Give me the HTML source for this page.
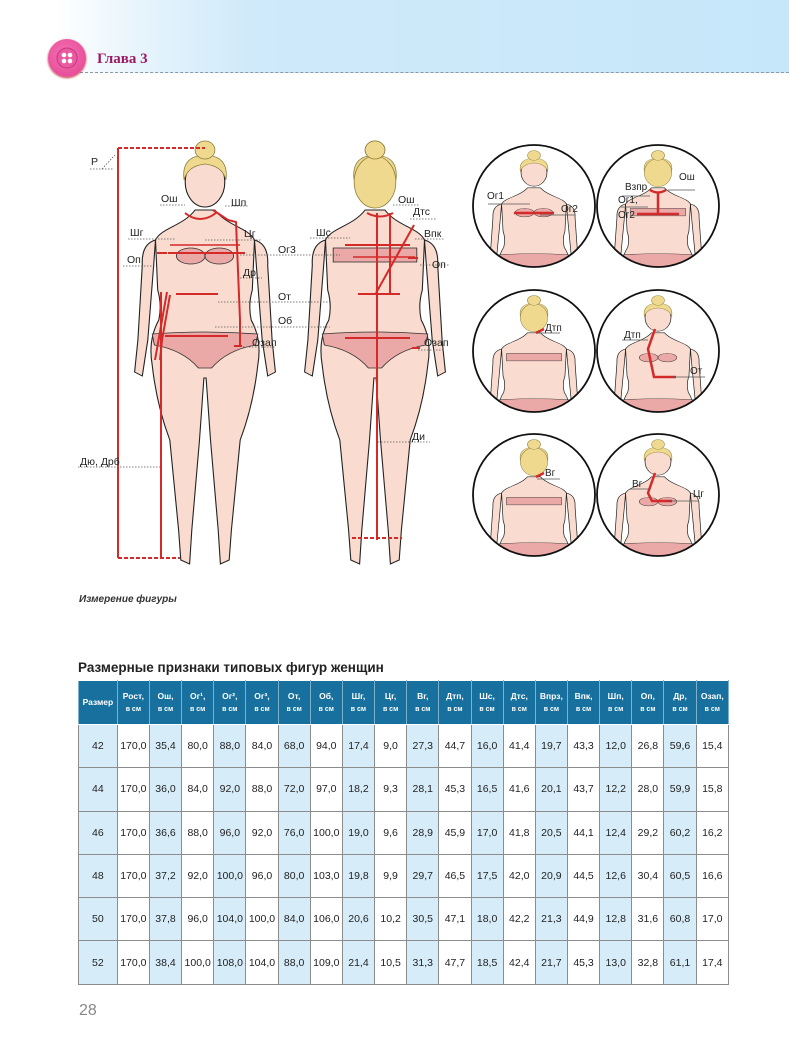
<!DOCTYPE html>
<html><head><meta charset="utf-8">
<style>
*{margin:0;padding:0;box-sizing:border-box}
body{width:789px;height:1063px;position:relative;background:#fff;font-family:"Liberation Sans","DejaVu Sans",sans-serif;overflow:hidden}
.hdr{position:absolute;left:0;top:0;width:789px;height:73px;background:linear-gradient(90deg,#fff 7%,#e6f4fc 18%,#cfeafa 32%,#c6e7fa 100%)}
.dash{position:absolute;left:80px;top:72px;width:709px;border-top:1.5px dashed #8a9aa5}
.btn{position:absolute;left:48px;top:39px;width:38px;height:38px;border-radius:50%;background:radial-gradient(circle at 45% 40%,#f572b4,#e2408f);box-shadow:0 1px 2px #b33}
.h3{position:absolute;left:97px;top:51px;font-family:"Liberation Serif",serif;font-weight:bold;font-size:15px;color:#9c1a63}
svg{position:absolute;left:0;top:0}
.cap{position:absolute;left:79px;top:594px;font-size:10px;font-style:italic;font-weight:bold;color:#333}
.title{position:absolute;left:78px;top:660px;font-size:13.5px;font-weight:bold;color:#222}
table{position:absolute;left:78px;top:680px;width:651px;border-collapse:collapse;table-layout:fixed}
td,th{border:1px solid #8c8c8c;text-align:center;font-size:10.5px;color:#222;height:43.3px;padding:0;width:30.7px}
td:first-child,th:first-child{width:37px}
th{background:#17709d;color:#fff;font-size:8.5px;font-weight:bold;height:44px;line-height:13px;border-color:#fff #7fb0cc}
th small{font-size:7px;display:block}
td.b{background:#d7ecf9}
.pn{position:absolute;left:79px;top:1002px;font-size:16px;color:#888}
</style></head><body>
<div class="hdr"></div><div class="dash"></div>
<div class="btn"><svg width="38" height="38" style="position:absolute"><circle cx="19" cy="19" r="10" fill="#ea5aa1" stroke="#c53780"/><circle cx="16" cy="16" r="2.3" fill="#fff"/><circle cx="22" cy="16" r="2.3" fill="#fff"/><circle cx="16" cy="22" r="2.3" fill="#fff"/><circle cx="22" cy="22" r="2.3" fill="#fff"/></svg></div>
<div class="h3">Глава 3</div>

<svg width="789" height="600" viewBox="0 0 789 600">
<defs>
<g id="fig">
 <path d="M-45,100 Q-58,104 -57,125 L-61,200 L-64,232 L-57,236 L-52,200 L-47,130 Z M45,100 Q58,104 57,125 L61,200 L64,232 L57,236 L52,200 L47,130 Z" fill="#f9dccf" stroke="#222" stroke-width="1"/>
 <path d="M-9,70 C-20,86 -40,88 -45,100 L-43,150 Q-39,165 -42,180 Q-52,200 -48,225 Q-44,265 -32,300 L-24,390 L-22,420 L-14,424 L-12,390 L-5,300 L-1,238 L1,238 L5,300 L12,390 L14,424 L22,420 L24,390 L32,300 Q44,265 48,225 Q52,200 42,180 Q39,165 43,150 L45,100 C40,88 20,86 9,70 Z" fill="#f9dccf" stroke="#222" stroke-width="1"/>
 <path d="M-48,194 Q0,190 48,194 L46,205 Q20,210 6,228 L-6,228 Q-20,210 -46,205 Z" fill="#eaa8a6" stroke="#333" stroke-width="0.8"/>
 <ellipse cx="0" cy="42" rx="18" ry="25" fill="#f9dccf" stroke="#222"/>
 <path d="M-19,40 Q-22,16 0,15 Q22,16 19,40 Q16,26 0,24 Q-16,26 -19,40 Z" fill="#efd98f" stroke="#8a7a3a" stroke-width="0.7"/>
 <circle cx="0" cy="10" r="9" fill="#efd98f" stroke="#8a7a3a" stroke-width="0.7"/>
</g>
<g id="bra"><ellipse cx="-13" cy="116" rx="13" ry="8" fill="#eaa8a6" stroke="#333" stroke-width="0.8"/><ellipse cx="13" cy="116" rx="13" ry="8" fill="#eaa8a6" stroke="#333" stroke-width="0.8"/></g>
<g id="bband"><rect x="-38" y="108" width="76" height="14" fill="#eaa8a6" stroke="#333" stroke-width="0.8"/></g>
<g id="bhair"><ellipse cx="0" cy="42" rx="19" ry="26" fill="#efd98f" stroke="#8a7a3a" stroke-width="0.7"/><circle cx="0" cy="10" r="9" fill="#efd98f" stroke="#8a7a3a" stroke-width="0.7"/></g>
<clipPath id="cc"><circle cx="0" cy="0" r="61"/></clipPath>
</defs>

<g transform="translate(205,140) scale(1.1,1)"><use href="#fig"/><use href="#bra"/></g>
<g transform="translate(375,140) scale(1.1,1)"><use href="#fig"/><use href="#bband"/><use href="#bhair"/></g>

<g stroke="#d42a2a" stroke-width="2" fill="none">
 <line x1="118" y1="148" x2="118" y2="558"/>
 <line x1="118" y1="148" x2="205" y2="148" stroke-dasharray="4,2"/>
 <line x1="118" y1="558" x2="180" y2="558" stroke-dasharray="4,2"/>
 <line x1="161" y1="292" x2="161" y2="558"/>
 <line x1="167" y1="292" x2="155" y2="360"/>
 <path d="M185,213 Q200,225 216,213"/>
 <path d="M213,210 L228,220 L236,222 L240,320 L240,345"/>
 <line x1="168" y1="253" x2="245" y2="253"/>
 <line x1="170" y1="245" x2="240" y2="245" stroke-width="1.5"/>
 <line x1="157" y1="253" x2="167" y2="253"/>
 <line x1="176" y1="294" x2="218" y2="294"/>
 <line x1="165" y1="336" x2="228" y2="336"/>
 <line x1="234" y1="346" x2="242" y2="346"/>
 <path d="M170,295 L162,340 L160,360"/>
 <path d="M367,213 Q380,220 393,213"/>
 <line x1="377" y1="213" x2="377" y2="540"/>
 <line x1="390" y1="213" x2="390" y2="295"/>
 <line x1="414" y1="225" x2="376" y2="293"/>
 <line x1="345" y1="245" x2="410" y2="245"/>
 <line x1="353" y1="257" x2="415" y2="257" stroke-width="1.5"/>
 <line x1="408" y1="258" x2="418" y2="258"/>
 <line x1="358" y1="294" x2="400" y2="294"/>
 <line x1="345" y1="338" x2="410" y2="338"/>
 <line x1="412" y1="348" x2="420" y2="348"/>
 <line x1="352" y1="538" x2="402" y2="538" stroke-dasharray="4,2"/>
</g>

<g stroke="#555" stroke-width="0.8" stroke-dasharray="1.5,1.5" fill="none">
 <line x1="90" y1="169" x2="114" y2="169"/><line x1="102" y1="169" x2="115" y2="155"/>
 <line x1="160" y1="205" x2="185" y2="205"/><line x1="225" y1="206" x2="248" y2="206"/>
 <line x1="128" y1="239" x2="175" y2="239"/><line x1="205" y1="240" x2="262" y2="240"/>
 <line x1="240" y1="255" x2="340" y2="255"/>
 <line x1="123" y1="266" x2="155" y2="266"/>
 <line x1="240" y1="278" x2="262" y2="278"/>
 <line x1="218" y1="302" x2="330" y2="302"/>
 <line x1="215" y1="327" x2="330" y2="327"/>
 <line x1="243" y1="347" x2="275" y2="347"/>
 <line x1="78" y1="467" x2="160" y2="467"/>
 <line x1="393" y1="205" x2="420" y2="205"/><line x1="410" y1="219" x2="436" y2="219"/>
 <line x1="310" y1="238" x2="350" y2="238"/><line x1="415" y1="239" x2="445" y2="239"/>
 <line x1="420" y1="265" x2="450" y2="265"/>
 <line x1="418" y1="350" x2="445" y2="350"/>
 <line x1="378" y1="442" x2="430" y2="442"/>
</g>
<g font-size="10.5" fill="#222">
 <text x="91" y="165">Р</text>
 <text x="161" y="202">Ош</text><text x="231" y="206">Шп</text>
 <text x="130" y="236">Шг</text><text x="244" y="237">Цг</text>
 <text x="278" y="253">Ог3</text><text x="127" y="263">Оп</text>
 <text x="243" y="276">Др</text><text x="278" y="300">От</text>
 <text x="278" y="324">Об</text><text x="252" y="346">Озап</text>
 <text x="80" y="465">Дю, Дрб</text>
 <text x="398" y="203">Ош</text><text x="413" y="215">Дтс</text>
 <text x="316" y="236">Шс</text><text x="424" y="237">Впк</text>
 <text x="432" y="268">Оп</text><text x="424" y="346">Озап</text>
 <text x="412" y="440">Ди</text>
</g>

<g>
 <g transform="translate(534,206)"><g clip-path="url(#cc)"><g transform="translate(0,-56) scale(0.72,0.54)"><use href="#fig"/><use href="#bra"/></g><line x1="-20" y1="7" x2="20" y2="7" stroke="#d42a2a" stroke-width="2.5"/></g><circle r="61" fill="none" stroke="#111" stroke-width="1.8"/></g>
 <g transform="translate(658,206)"><g clip-path="url(#cc)"><g transform="translate(0,-56) scale(0.72,0.54)"><use href="#fig"/><use href="#bband"/><use href="#bhair"/></g><path d="M-8,-16 Q0,-11 8,-16 M0,-13 L0,8 M-21,8 L21,8" stroke="#d42a2a" stroke-width="2.5" fill="none"/></g><circle r="61" fill="none" stroke="#111" stroke-width="1.8"/></g>
 <g transform="translate(534,351)"><g clip-path="url(#cc)"><g transform="translate(0,-56) scale(0.72,0.54)"><use href="#fig"/><use href="#bband"/><use href="#bhair"/></g><line x1="2" y1="-18" x2="10" y2="-22" stroke="#d42a2a" stroke-width="2.5"/></g><circle r="61" fill="none" stroke="#111" stroke-width="1.8"/></g>
 <g transform="translate(658,351)"><g clip-path="url(#cc)"><g transform="translate(0,-56) scale(0.72,0.54)"><use href="#fig"/><use href="#bra"/></g><path d="M-3,-22 L-10,-2 L-4,26 L18,26" stroke="#d42a2a" stroke-width="2.5" fill="none"/></g><circle r="61" fill="none" stroke="#111" stroke-width="1.8"/></g>
 <g transform="translate(534,495)"><g clip-path="url(#cc)"><g transform="translate(0,-56) scale(0.72,0.54)"><use href="#fig"/><use href="#bband"/><use href="#bhair"/></g><line x1="2" y1="-18" x2="10" y2="-22" stroke="#d42a2a" stroke-width="2.5"/></g><circle r="61" fill="none" stroke="#111" stroke-width="1.8"/></g>
 <g transform="translate(658,495)"><g clip-path="url(#cc)"><g transform="translate(0,-56) scale(0.72,0.54)"><use href="#fig"/><use href="#bra"/></g><path d="M-3,-22 L-10,-2 L-6,6 L14,6" stroke="#d42a2a" stroke-width="2.5" fill="none"/></g><circle r="61" fill="none" stroke="#111" stroke-width="1.8"/></g>
</g>
<g stroke="#555" stroke-width="0.8" fill="none">
 <line x1="488" y1="204" x2="530" y2="204"/><line x1="540" y1="215" x2="575" y2="215"/>
 <line x1="622" y1="196" x2="650" y2="196"/><line x1="620" y1="207" x2="648" y2="207"/>
 <line x1="668" y1="190" x2="695" y2="190"/>
 <line x1="537" y1="333" x2="560" y2="333"/>
 <line x1="622" y1="340" x2="648" y2="340"/><line x1="672" y1="377" x2="705" y2="377"/>
 <line x1="537" y1="479" x2="560" y2="479"/>
 <line x1="630" y1="489" x2="650" y2="489"/><line x1="668" y1="501" x2="698" y2="501"/>
</g>
<g font-size="10" fill="#222">
 <text x="487" y="199">Ог1</text><text x="561" y="212">Ог2</text>
 <text x="625" y="190">Взпр</text><text x="679" y="180">Ош</text>
 <text x="618" y="203">Ог1,</text><text x="618" y="218">Ог2</text>
 <text x="545" y="331">Дтп</text>
 <text x="624" y="338">Дтп</text><text x="690" y="374">От</text>
 <text x="545" y="476">Вг</text>
 <text x="632" y="487">Вг</text><text x="693" y="497">Цг</text>
</g>
</svg>

<div class="cap">Измерение фигуры</div>
<div class="title">Размерные признаки типовых фигур женщин</div>
<table>
<tr><th>Размер</th><th>Рост,<small>в см</small></th><th>Ош,<small>в см</small></th><th>Ог¹,<small>в см</small></th><th>Ог²,<small>в см</small></th><th>Ог³,<small>в см</small></th><th>От,<small>в см</small></th><th>Об,<small>в см</small></th><th>Шг,<small>в см</small></th><th>Цг,<small>в см</small></th><th>Вг,<small>в см</small></th><th>Дтп,<small>в см</small></th><th>Шс,<small>в см</small></th><th>Дтс,<small>в см</small></th><th>Впрз,<small>в см</small></th><th>Впк,<small>в см</small></th><th>Шп,<small>в см</small></th><th>Оп,<small>в см</small></th><th>Др,<small>в см</small></th><th>Озап,<small>в см</small></th></tr>
<tr><td class="b">42</td><td>170,0</td><td class="b">35,4</td><td>80,0</td><td class="b">88,0</td><td>84,0</td><td class="b">68,0</td><td>94,0</td><td class="b">17,4</td><td>9,0</td><td class="b">27,3</td><td>44,7</td><td class="b">16,0</td><td>41,4</td><td class="b">19,7</td><td>43,3</td><td class="b">12,0</td><td>26,8</td><td class="b">59,6</td><td>15,4</td></tr>
<tr><td class="b">44</td><td>170,0</td><td class="b">36,0</td><td>84,0</td><td class="b">92,0</td><td>88,0</td><td class="b">72,0</td><td>97,0</td><td class="b">18,2</td><td>9,3</td><td class="b">28,1</td><td>45,3</td><td class="b">16,5</td><td>41,6</td><td class="b">20,1</td><td>43,7</td><td class="b">12,2</td><td>28,0</td><td class="b">59,9</td><td>15,8</td></tr>
<tr><td class="b">46</td><td>170,0</td><td class="b">36,6</td><td>88,0</td><td class="b">96,0</td><td>92,0</td><td class="b">76,0</td><td>100,0</td><td class="b">19,0</td><td>9,6</td><td class="b">28,9</td><td>45,9</td><td class="b">17,0</td><td>41,8</td><td class="b">20,5</td><td>44,1</td><td class="b">12,4</td><td>29,2</td><td class="b">60,2</td><td>16,2</td></tr>
<tr><td class="b">48</td><td>170,0</td><td class="b">37,2</td><td>92,0</td><td class="b">100,0</td><td>96,0</td><td class="b">80,0</td><td>103,0</td><td class="b">19,8</td><td>9,9</td><td class="b">29,7</td><td>46,5</td><td class="b">17,5</td><td>42,0</td><td class="b">20,9</td><td>44,5</td><td class="b">12,6</td><td>30,4</td><td class="b">60,5</td><td>16,6</td></tr>
<tr><td class="b">50</td><td>170,0</td><td class="b">37,8</td><td>96,0</td><td class="b">104,0</td><td>100,0</td><td class="b">84,0</td><td>106,0</td><td class="b">20,6</td><td>10,2</td><td class="b">30,5</td><td>47,1</td><td class="b">18,0</td><td>42,2</td><td class="b">21,3</td><td>44,9</td><td class="b">12,8</td><td>31,6</td><td class="b">60,8</td><td>17,0</td></tr>
<tr><td class="b">52</td><td>170,0</td><td class="b">38,4</td><td>100,0</td><td class="b">108,0</td><td>104,0</td><td class="b">88,0</td><td>109,0</td><td class="b">21,4</td><td>10,5</td><td class="b">31,3</td><td>47,7</td><td class="b">18,5</td><td>42,4</td><td class="b">21,7</td><td>45,3</td><td class="b">13,0</td><td>32,8</td><td class="b">61,1</td><td>17,4</td></tr>
</table>
<div class="pn">28</div>
</body></html>
